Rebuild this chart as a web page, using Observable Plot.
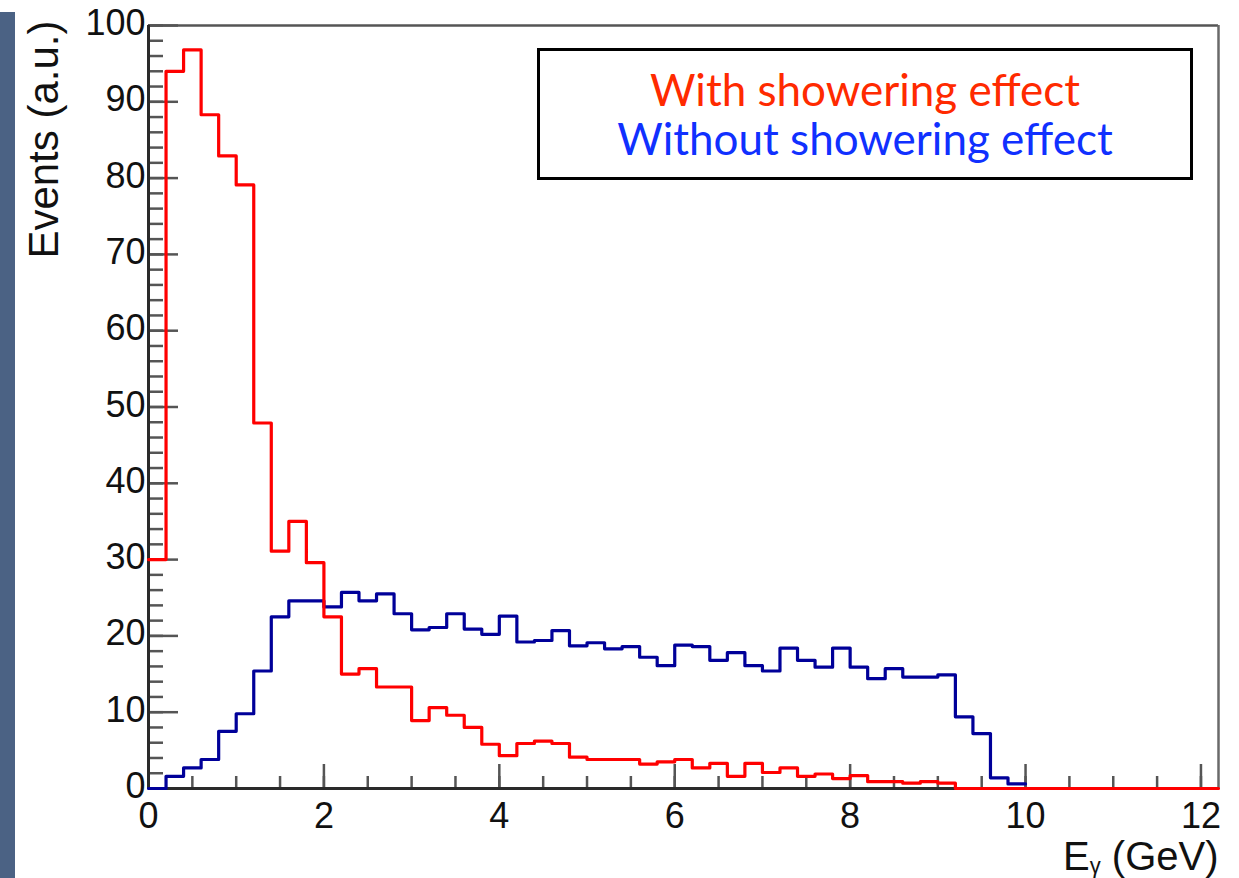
<!DOCTYPE html>
<html>
<head>
<meta charset="utf-8">
<script src="https://cdn.jsdelivr.net/npm/d3@7"></script>
<script src="https://cdn.jsdelivr.net/npm/@observablehq/plot@0.6"></script>
<style>
  html, body { margin: 0; padding: 0; background: #fff; }
  #page { position: relative; width: 1239px; height: 878px; background: #fff; overflow: hidden; }
  #strip { position: absolute; left: 0; top: 12px; width: 15px; height: 866px; background: #4b6284; z-index: 3; }
  #chart { position: absolute; left: 0; top: 0; }
  #legend { position: absolute; left: 537px; top: 48px; width: 656px; height: 132px; box-sizing: border-box;
            border: 3px solid #000; background: #fff; text-align: center; font-family: Lato, "Open Sans", sans-serif;
            font-size: 44px; line-height: 49px; padding-top: 14px; z-index: 2; }
  #legend .l1 { color: #ff2a00; }
  #legend .l2 { color: #1030ff; }
</style>
</head>
<body>
<div id="page">
  <div id="strip"></div>
  <div id="chart"></div>
  <div id="legend"></div>
</div>
<script>
// ---- data ----
const binWidth = 0.2; // GeV
const xDomain = [0, 12.2];
const yDomain = [0, 100];
const seriesNames = ["With showering effect", "Without showering effect"];
// "With showering effect" (red), bins of 0.2 GeV starting at 0
const redValues = [30, 94, 96.8, 88.3, 82.9, 79.1, 47.9, 31.1, 35.0, 29.6,
  22.5, 15.0, 15.7, 13.3, 13.3, 8.9, 10.6, 9.6, 8.0, 5.8,
  4.3, 5.9, 6.2, 5.9, 4.1, 3.8, 3.8, 3.8, 3.2, 3.5,
  3.8, 2.7, 3.3, 1.6, 3.3, 2.1, 2.7, 1.6, 1.9, 1.3,
  1.7, 0.9, 0.9, 0.7, 0.9, 0.7, 0, 0, 0, 0,
  0, 0, 0, 0, 0, 0, 0, 0, 0, 0, 0];
// "Without showering effect" (blue), bins of 0.2 GeV starting at 0
const blueValues = [0, 1.6, 2.7, 3.8, 7.5, 9.8, 15.4, 22.5, 24.6, 24.6,
  23.8, 25.7, 24.6, 25.5, 22.9, 20.8, 21.1, 22.9, 20.9, 20.2,
  22.6, 19.2, 19.4, 20.7, 18.7, 19.1, 18.3, 18.6, 17.2, 16.1,
  18.8, 18.6, 16.8, 17.8, 16.1, 15.4, 18.4, 16.8, 15.9, 18.4,
  15.9, 14.4, 15.7, 14.6, 14.6, 14.9, 9.4, 7.2, 1.4, 0.6];
const yMajorTicks = [0, 10, 20, 30, 40, 50, 60, 70, 80, 90, 100];
const yMinorTicks = d3.range(0, 101, 2);
const xMajorTicks = [0, 2, 4, 6, 8, 10, 12];
const xMinorTicks = d3.range(0, 12.01, 0.5);
const yTitle = "Events (a.u.)";
const xTitle = "Eγ (GeV)";

// ---- build step outlines ----
function outline(values) {
  const pts = values.map((v, i) => ({x: i * binWidth, y: v}));
  pts.push({x: values.length * binWidth, y: values[values.length - 1]});
  return pts;
}
const red = outline(redValues);
const blue = outline(blueValues);

const font = "'Liberation Sans', Arial, Helvetica, sans-serif";
const tickColor = "#555";

const chart = Plot.plot({
  width: 1239,
  height: 878,
  marginLeft: 148,
  marginRight: 21,
  marginTop: 25,
  marginBottom: 90,
  style: {background: "transparent", fontFamily: font, color: "#111"},
  x: {domain: xDomain},
  y: {domain: yDomain},
  marks: [
    // frame
    Plot.ruleY([yDomain[1]], {stroke: "#555", strokeWidth: 2.5}),
    Plot.ruleX([xDomain[1]], {stroke: "#6a6a6a", strokeWidth: 2.5}),
    // ticks (inward)
    Plot.axisY({ticks: yMinorTicks, tickSize: -15, fill: "none", stroke: tickColor, strokeWidth: 2.5, label: null}),
    Plot.axisY({ticks: yMajorTicks, tickSize: -30, fill: "none", stroke: tickColor, strokeWidth: 2.5, label: null}),
    Plot.axisX({ticks: xMinorTicks, tickSize: -12, fill: "none", stroke: tickColor, strokeWidth: 2.5, label: null}),
    Plot.axisX({ticks: xMajorTicks, tickSize: -24, fill: "none", stroke: tickColor, strokeWidth: 2.5, label: null}),
    // tick labels
    Plot.axisY({ticks: yMajorTicks, tickSize: 0, tickPadding: 3, dy: -2, fontSize: 36, label: null, fill: "#111"}),
    Plot.axisX({ticks: xMajorTicks, tickSize: 0, tickPadding: 14, fontSize: 36, label: null, fill: "#111"}),
    // axis lines
    Plot.ruleX([xDomain[0]], {stroke: "#2a2a2a", strokeWidth: 3}),
    Plot.ruleY([yDomain[0]], {stroke: "#2a2a2a", strokeWidth: 3}),
    // histograms
    Plot.line(blue, {x: "x", y: "y", curve: "step-after", stroke: "#000099", strokeWidth: 3.2}),
    Plot.line(red, {x: "x", y: "y", curve: "step-after", stroke: "#ff0000", strokeWidth: 3.2}),
    // axis titles
    Plot.text([yTitle], {frameAnchor: "top-left", rotate: -90, textAnchor: "end", dx: -120, dy: -5, fontSize: 42, fill: "#111"}),
    Plot.text([xTitle], {frameAnchor: "bottom-right", textAnchor: "end", lineAnchor: "bottom", dy: 81, fontSize: 40, fill: "#111"})
  ]
});
document.getElementById("chart").appendChild(chart);

// subscript gamma in x title
chart.querySelectorAll("text").forEach(t => {
  if (t.textContent === xTitle) {
    t.textContent = "";
    const ns = "http://www.w3.org/2000/svg";
    const a = document.createElementNS(ns, "tspan"); a.textContent = "E";
    const b = document.createElementNS(ns, "tspan"); b.textContent = "γ";
    b.setAttribute("font-size", "22"); b.setAttribute("dy", "3");
    const c = document.createElementNS(ns, "tspan"); c.textContent = " (GeV)"; c.setAttribute("dy", "-3");
    t.append(a, b, c);
  }
});

// legend
const lg = document.getElementById("legend");
lg.innerHTML = `<div class="l1">${seriesNames[0]}</div><div class="l2">${seriesNames[1]}</div>`;
</script>
</body>
</html>
